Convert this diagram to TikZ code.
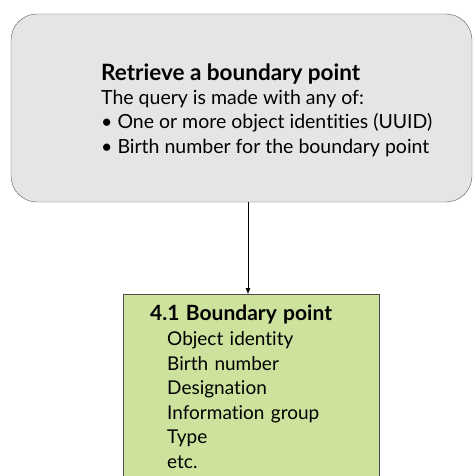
\documentclass[tikz,border=0pt]{standalone}
\usepackage{fontspec}
\setmainfont{Lato}[Ligatures=NoCommon]
\usetikzlibrary{arrows.meta}
\definecolor{querygray}{RGB}{229,229,229}
\definecolor{classgreen}{RGB}{205,226,157}
\newcommand{\boxtitle}[2][21]{{\fontsize{#1}{24.3}\selectfont\bfseries #2}}
\begin{document}
\begin{tikzpicture}[x=1pt,y=1pt,
                    querybox/.style={draw=black!65,fill=querygray,rounded corners=26pt,
                                     minimum width=461pt,minimum height=188pt},
                    querytext/.style={anchor=west,inner sep=0pt,align=left,
                                      font=\fontsize{19.5}{24.3}\selectfont},
                    classbox/.style={draw=black!70,fill=classgreen,anchor=north west,
                                     minimum width=256pt,text width=202pt,inner xsep=27pt,
                                     inner ysep=11pt,align=left,
                                     font=\fontsize{19}{24.6}\selectfont}]
  \useasboundingbox (0,0) rectangle (475,-476);
  \node[querybox] (query) at (241.5,-108) {};
  \node[querytext] (querylist) at (101,-110)
    {\boxtitle[22.5]{Retrieve a boundary point}\\
     The query is made with any of:\\
     \textbullet{} One or more object identities (UUID)\\
     \textbullet{} Birth number for the boundary point};
  \node[classbox] (point) at (123,-294)
    {\boxtitle{4.1 Boundary point}\\
     \hspace*{17pt}Object identity\\
     \hspace*{17pt}Birth number\\
     \hspace*{17pt}Designation\\
     \hspace*{17pt}Information group\\
     \hspace*{17pt}Type\\
     \hspace*{17pt}etc.\\[30pt]};
  \draw[-{Latex[length=6pt,width=5pt]}] (query.south -| 248,0) -- (point.north -| 248,0);
\end{tikzpicture}
\end{document}
